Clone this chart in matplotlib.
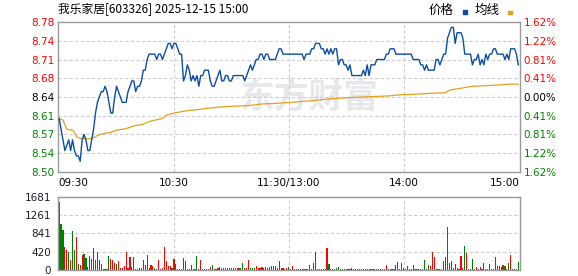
import matplotlib
matplotlib.use("Agg")
import matplotlib.pyplot as plt
import matplotlib.transforms as mtransforms
from matplotlib.patches import Rectangle
import numpy as np

# ---------------- data ----------------
title = "我乐家居[603326] 2025-12-15 15:00"
pre_close = 8.64

price = [
    8.60, 8.58, 8.56, 8.54, 8.55, 8.56, 8.54, 8.56, 8.54, 8.53,
    8.53, 8.52, 8.56, 8.57, 8.56, 8.54, 8.54, 8.56, 8.58, 8.61,
    8.63, 8.64, 8.65, 8.65, 8.66, 8.65, 8.63, 8.61, 8.61, 8.64,
    8.66, 8.65, 8.64, 8.63, 8.63, 8.63, 8.65, 8.66, 8.67, 8.67,
    8.65, 8.66, 8.66, 8.67, 8.69, 8.69, 8.71, 8.72, 8.72, 8.72,
    8.72, 8.71, 8.72, 8.72, 8.71, 8.72, 8.73, 8.74, 8.74, 8.73,
    8.74, 8.74, 8.73, 8.72, 8.72, 8.67, 8.68, 8.70, 8.69, 8.67,
    8.68, 8.67, 8.68, 8.66, 8.68, 8.68, 8.69, 8.69, 8.69, 8.67,
    8.66, 8.66, 8.67, 8.68, 8.69, 8.67, 8.67, 8.68, 8.68, 8.67,
    8.67, 8.68, 8.68, 8.68, 8.68, 8.68, 8.68, 8.67, 8.68, 8.69,
    8.70, 8.69, 8.70, 8.71, 8.71, 8.72, 8.72, 8.71, 8.72, 8.72,
    8.71, 8.71, 8.71, 8.71, 8.72, 8.73, 8.73, 8.72, 8.72, 8.72,
    8.72, 8.72, 8.72, 8.72, 8.72, 8.72, 8.72, 8.72, 8.71, 8.72,
    8.72, 8.72, 8.73, 8.73, 8.74, 8.74, 8.74, 8.73, 8.73, 8.72,
    8.73, 8.72, 8.73, 8.72, 8.73, 8.73, 8.70, 8.71, 8.71, 8.70,
    8.70, 8.69, 8.70, 8.68, 8.68, 8.68, 8.68, 8.68, 8.68, 8.69,
    8.68, 8.70, 8.68, 8.70, 8.70, 8.70, 8.71, 8.71, 8.71, 8.71,
    8.71, 8.72, 8.72, 8.73, 8.73, 8.73, 8.72, 8.72, 8.72, 8.72,
    8.72, 8.72, 8.72, 8.72, 8.72, 8.71, 8.71, 8.71, 8.71, 8.70,
    8.70, 8.69, 8.70, 8.69, 8.69, 8.69, 8.69, 8.71, 8.71, 8.70,
    8.71, 8.72, 8.72, 8.75, 8.76, 8.77, 8.77, 8.74, 8.76, 8.76,
    8.76, 8.75, 8.72, 8.72, 8.72, 8.72, 8.70, 8.71, 8.71, 8.72,
    8.70, 8.71, 8.70, 8.72, 8.71, 8.72, 8.72, 8.73, 8.73, 8.72,
    8.72, 8.72, 8.72, 8.71, 8.72, 8.71, 8.73, 8.73, 8.73, 8.72,
    8.70,
]

avg_minute = [0, 2, 3, 4, 7, 8, 9, 11, 13, 16, 18, 20, 22, 27, 30, 35, 39, 44, 46, 49,
              54, 56, 60, 66, 71, 78, 86, 99, 106, 113, 121, 132, 140, 152, 172, 178,
              185, 195, 202, 204, 206, 211, 216, 228, 235, 240]
avg_price = [8.599, 8.597, 8.588, 8.580, 8.578, 8.574, 8.566, 8.563, 8.562, 8.562,
             8.564, 8.568, 8.571, 8.574, 8.578, 8.581, 8.586, 8.589, 8.593, 8.596,
             8.600, 8.606, 8.610, 8.614, 8.616, 8.619, 8.622, 8.624, 8.627, 8.628,
             8.630, 8.633, 8.636, 8.639, 8.642, 8.644, 8.645, 8.647, 8.648, 8.653,
             8.654, 8.657, 8.660, 8.662, 8.664, 8.664]

volume = [
    1566, 1054, 917, 535, 458, 405, 229, 894, 458, 764,
    130, 115, 344, 367, 283, 76, 329, 252, 512, 229,
    420, 229, 137, 23, 23, 23, 321, 252, 229, 153,
    137, 206, 38, 38, 99, 405, 38, 298, 76, 298,
    23, 23, 53, 38, 229, 115, 344, 53, 115, 99,
    53, 23, 229, 23, 53, 527, 206, 99, 99, 53,
    252, 137, 23, 23, 23, 283, 214, 23, 23, 115,
    23, 23, 321, 23, 229, 23, 23, 23, 23, 76,
    115, 23, 23, 53, 76, 38, 53, 38, 38, 53,
    53, 38, 38, 53, 38, 38, 168, 38, 53, 229,
    38, 38, 38, 99, 38, 38, 76, 38, 76, 38,
    76, 99, 99, 99, 53, 206, 38, 38, 30, 38,
    76, 30, 92, 30, 30, 30, 30, 30, 30, 30,
    30, 115, 30, 153, 413, 30, 30, 30, 30, 30,
    497, 130, 30, 30, 30, 53, 76, 30, 30, 30,
    30, 30, 30, 53, 30, 30, 30, 30, 30, 30,
    30, 30, 30, 30, 30, 30, 30, 30, 30, 30,
    30, 115, 30, 30, 30, 30, 115, 176, 30, 153,
    53, 30, 92, 30, 30, 115, 30, 30, 30, 30,
    30, 229, 30, 115, 92, 413, 298, 30, 30, 30,
    30, 206, 298, 993, 153, 206, 53, 130, 38, 30,
    321, 53, 550, 382, 30, 30, 244, 30, 61, 30,
    76, 30, 153, 30, 30, 130, 30, 30, 298, 99,
    99, 76, 115, 92, 30, 153, 344, 30, 30, 30,
    176,
]

vol_dir = list(
    "gggrrgrggr" "grrggrrrrr" "rrrggggrrr" "grrrrrrrrg" "ggrrrrrrrr"
    "grrgrrrrrg" "rgrrrggrrg" "rrgrrgrrgr" "grrrgrrrrg" "grrrrggrrr"
    "gggrrrrrrg" "rrrrgrrrrr" "grrrrrrrgr" "rrrrrrrggr" "rgrgrggrgr"
    "grggrrrrrr" "grgrrrrrrr" "rrrgrrgrrr" "rrrrrgrrrr" "rgrgrrrgrr"
    "rrrrrrrgrr" "rrgrrrgrrg" "rrgrrrrrrg" "grrgrgrrrr" "g"
)

price_tick_labels = ["8.50", "8.54", "8.57", "8.61", "8.64", "8.68", "8.71", "8.74", "8.78"]
pct_tick_labels = ["1.62%", "1.22%", "0.81%", "0.41%", "0.00%", "0.41%", "0.81%", "1.22%", "1.62%"]
vol_ticks = [0, 420, 841, 1261, 1681]
time_ticks = [0, 60, 120, 180, 240]
time_labels = ["09:30", "10:30", "11:30/13:00", "14:00", "15:00"]
legend_labels = ["价格", "均线"]

# ---------------- style ----------------
RED = "#ff0000"
GREEN = "#008000"
BLUE = "#0b4ea2"
ORANGE = "#e3a11e"
GRID = "#cccccc"
SPINE = "#9a9a9a"
CJK = ["Noto Sans CJK SC", "DejaVu Sans"]
NUM_FS = 7.5

W, H = 578, 276
fig = plt.figure(figsize=(W / 100, H / 100), dpi=100)
fig.patch.set_facecolor("white")

def fx(px):
    return px / W

def fy(py):
    return 1 - py / H

L, R = 58, 519.5
ax = fig.add_axes([fx(L), fy(172), fx(R) - fx(L), (172 - 22) / H])
axv = fig.add_axes([fx(L), fy(270), fx(R) - fx(L), (270 - 197) / H])

x = np.arange(len(price))
xlim = (-0.6, 240.6)
ylo, yhi = 8.50, 8.78
price_ticks = np.linspace(ylo, yhi, 9)

for a in (ax, axv):
    a.set_xlim(*xlim)
    for s in a.spines.values():
        s.set_color(SPINE)
        s.set_linewidth(1.0)
    a.tick_params(length=0)
    a.set_xticks([])

# watermark
ax.text(0.545, 0.50, "东方财富", transform=ax.transAxes, ha="center", va="center",
        fontsize=25, fontweight="bold", color="#e8e8ec", family=CJK, zorder=0)

# grid
for t in price_ticks[1:-1]:
    ax.axhline(t, color=GRID, lw=0.8, ls=(0, (3, 2)), zorder=1)
for t in time_ticks[1:-1]:
    ax.axvline(t, color=GRID, lw=0.8, ls=(0, (3, 2)), zorder=1)
    axv.axvline(t, color=GRID, lw=0.8, ls=(0, (3, 2)), zorder=1)
for t in vol_ticks[1:-1]:
    axv.axhline(t, color=GRID, lw=0.8, ls=(0, (3, 2)), zorder=1)

# lines
ax.plot(x, price, color=BLUE, lw=1.0, zorder=3)
ax.plot(avg_minute, avg_price, color=ORANGE, lw=0.9, zorder=2)
ax.set_ylim(ylo, yhi)

# left price labels
ax.set_yticks(price_ticks)
ax.set_yticklabels(price_tick_labels)
ax.tick_params(axis="y", pad=2.5, labelsize=NUM_FS)
for lab, v in zip(ax.get_yticklabels(), price_ticks):
    lab.set_color(RED if v > pre_close + 1e-6 else (GREEN if v < pre_close - 1e-6 else "black"))

# right percent labels
axr = ax.twinx()
axr.set_ylim(ylo, yhi)
axr.set_yticks(price_ticks)
axr.set_yticklabels(pct_tick_labels)
axr.tick_params(axis="y", length=0, pad=3, labelsize=NUM_FS)
for s in axr.spines.values():
    s.set_visible(False)
for lab, v in zip(axr.get_yticklabels(), price_ticks):
    lab.set_color(RED if v > pre_close + 1e-6 else (GREEN if v < pre_close - 1e-6 else "black"))

# time labels between panels
trans = mtransforms.blended_transform_factory(ax.transData, ax.transAxes)
ypos = -(183 - 172) / 150
for t, lab in zip(time_ticks, time_labels):
    ha = "center"
    xx = t
    if t == time_ticks[0]:
        ha, xx = "left", xlim[0]
    elif t == time_ticks[-1]:
        ha, xx = "right", xlim[1]
    ax.text(xx, ypos, lab, transform=trans, ha=ha, va="center",
            fontsize=NUM_FS, color="black")

# volume bars
colors = [RED if d == "r" else GREEN for d in vol_dir]
axv.bar(np.arange(len(volume)), volume, width=0.6, color=colors, zorder=2,
        linewidth=0, antialiased=False)
axv.set_ylim(0, vol_ticks[-1])
axv.set_yticks(vol_ticks)
axv.set_yticklabels([str(v) for v in vol_ticks])
axv.tick_params(axis="y", pad=5, labelsize=NUM_FS, labelcolor="#1c1c2c")

# title
fig.text(fx(58), fy(9), title, ha="left", va="center", fontsize=8.5,
         family=CJK, color="black")

# legend
fig.text(fx(429), fy(10), legend_labels[0], ha="left", va="center", fontsize=9,
         family=CJK, color="black")
fig.add_artist(Rectangle((fx(463), fy(13.5)), fx(4), 3 / H, color=BLUE,
                         transform=fig.transFigure))
fig.text(fx(475), fy(10), legend_labels[1], ha="left", va="center", fontsize=9,
         family=CJK, color="black")
fig.add_artist(Rectangle((fx(508), fy(14)), fx(4), 3 / H, color=ORANGE,
                         transform=fig.transFigure))

fig.savefig("out.png", dpi=100, facecolor="white")
